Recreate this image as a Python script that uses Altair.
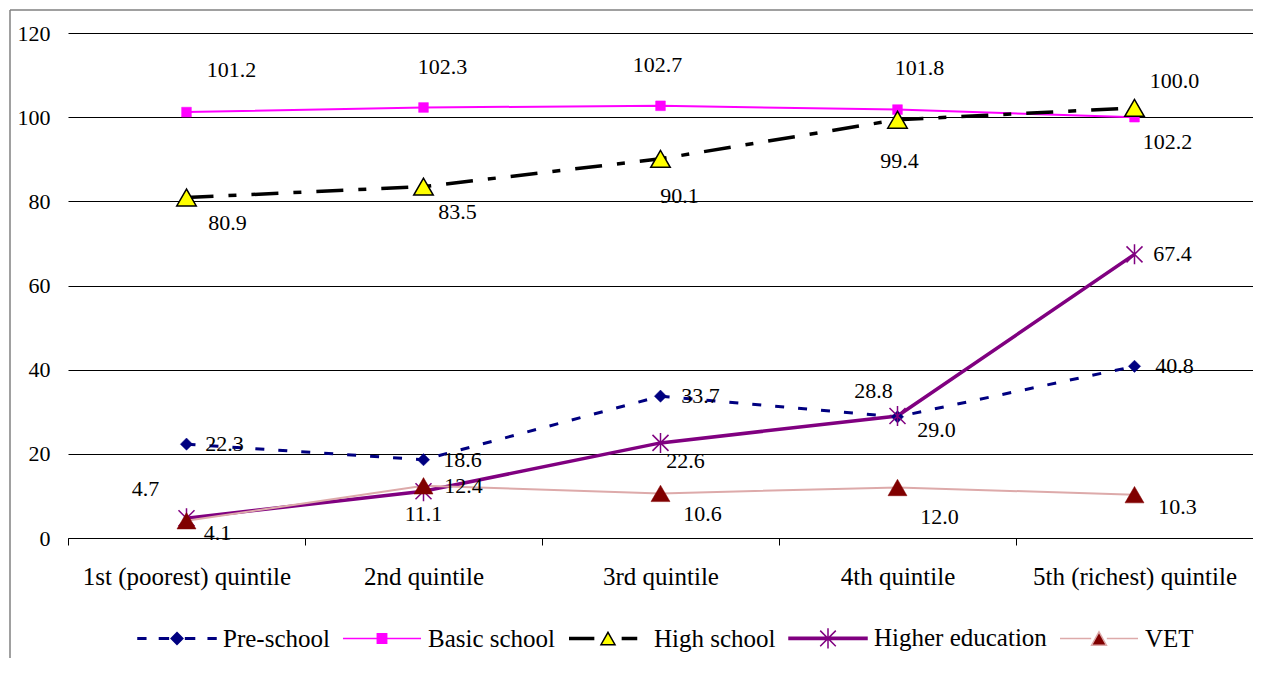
import altair as alt
import pandas as pd

# ---------------- data ----------------
categories = ["1st (poorest) quintile", "2nd quintile", "3rd quintile",
              "4th quintile", "5th (richest) quintile"]
series_names = ["Pre-school", "Basic school", "High school", "Higher education", "VET"]
pre_school = [22.3, 18.6, 33.7, 28.8, 40.8]
basic_school = [101.2, 102.3, 102.7, 101.8, 100.0]
high_school = [80.9, 83.5, 90.1, 99.4, 102.2]
higher_education = [4.7, 11.1, 22.6, 29.0, 67.4]
vet = [4.1, 12.4, 10.6, 12.0, 10.3]
y_ticks = [0, 20, 40, 60, 80, 100, 120]

values = {
    "Pre-school": pre_school,
    "Basic school": basic_school,
    "High school": high_school,
    "Higher education": higher_education,
    "VET": vet,
}

# ---------------- styles ----------------
FONT = "Liberation Serif"
LABEL_DX = {
    "Pre-school": [38, 39, 40, -24, 40],
    "Basic school": [45, 19, -3, 22, 40],
    "High school": [41, 34, 19, 2, 33],
    "Higher education": [-41, 0, 25, 39, 38],
    "VET": [31, 40, 42, 42, 43],
}
LABEL_DY = {
    "Pre-school": [0, 0, 0, -26, 0],
    "Basic school": [-42, -40, -41, -42, -36],
    "High school": [25, 25, 37, 41, 34],
    "Higher education": [-29, 23, 18, 14, 0],
    "VET": [12, 0, 21, 29, 12],
}

rows = []
for s in series_names:
    for i, c in enumerate(categories):
        rows.append({"series": s, "category": c, "value": values[s][i],
                     "dx": LABEL_DX[s][i], "dy": LABEL_DY[s][i]})
df = pd.DataFrame(rows)

W, H = 1185, 505
PAD_BOTTOM = 120
PAD_RIGHT = 0

x_enc = alt.X("category:N", sort=categories,
              scale=alt.Scale(type="band", domain=categories, paddingInner=0, paddingOuter=0),
              axis=alt.Axis(title=None, tickBand="extent", tickSize=7, tickColor="black",
                            domainColor="black", domainWidth=1, labelFont=FONT,
                            labelFontSize=25, labelColor="black", labelPadding=19,
                            labelAngle=0, labelLimit=0, grid=False))
y_enc = alt.Y("value:Q", scale=alt.Scale(domain=[0, 120], nice=False, zero=True),
              axis=alt.Axis(title=None, values=y_ticks, grid=True, gridColor="black",
                            gridWidth=1, domain=False, ticks=False, labelFont=FONT,
                            labelFontSize=22, labelColor="black", labelPadding=18))

base = alt.Chart(df)

line_styles = {
    "Pre-school": dict(color="#000080", strokeWidth=3, strokeDash=[9, 14]),
    "Basic school": dict(color="#FF00FF", strokeWidth=2),
    "High school": dict(color="black", strokeWidth=3.5, strokeDash=[27, 15, 8, 15]),
    "Higher education": dict(color="#800080", strokeWidth=3.5),
    "VET": dict(color="#DDAAAA", strokeWidth=2),
}
ASTER = "M-0.8,-0.8L0.8,0.8M-0.8,0.8L0.8,-0.8M0,-1L0,1"
point_styles = {
    "Pre-school": dict(shape="diamond", filled=True, fill="#000080", stroke="#000080",
                       strokeWidth=0.5, size=150),
    "Basic school": dict(shape="square", filled=True, fill="#FF00FF", stroke="#FF00FF",
                         strokeWidth=0.5, size=95),
    "High school": dict(shape="triangle-up", filled=True, fill="#FFFF00", stroke="black",
                        strokeWidth=1.5, size=380),
    "Higher education": dict(shape=ASTER, filled=False, stroke="#800080",
                             strokeWidth=1.5, size=400),
    "VET": dict(shape="triangle-up", filled=True, fill="#800000", stroke="#800000",
                strokeWidth=0.5, size=360),
}

layers = []
for s in series_names:
    layers.append(
        base.transform_filter(alt.datum.series == s)
        .mark_line(**line_styles[s])
        .encode(x=x_enc, y=y_enc)
    )
for s in series_names:
    layers.append(
        base.transform_filter(alt.datum.series == s)
        .mark_point(opacity=1, **point_styles[s])
        .encode(x=x_enc, y=y_enc)
    )

labels = base.mark_text(font=FONT, fontSize=22, color="black", align="center",
                        baseline="middle",
                        dx=alt.ExprRef(expr="datum.dx"),
                        dy=alt.ExprRef(expr="datum.dy")).encode(
    x=x_enc, y=y_enc, text=alt.Text("value:Q", format=".1f"))
layers.append(labels)

# ---------------- legend (guide built from scales) ----------------
leg_shapes = [
    # Pre-school: dashes + diamond
    "M-1,-0.02H-0.8V0.02H-1Z M-0.45,-0.02H-0.22V0.02H-0.45Z "
    "M0.22,-0.02H0.45V0.02H0.22Z M0.8,-0.02H1V0.02H0.8Z "
    "M0,-0.15L0.15,0L0,0.15L-0.15,0Z",
    # Basic school: line + square
    "M-1,0H1 M-0.12,-0.12H0.12V0.12H-0.12Z",
    # High school: dash + triangle + dash
    "M-1,-0.025H-0.35 M-1,0H-0.35 M-1,0.025H-0.35 "
    "M0.35,-0.025H0.75 M0.35,0H0.75 M0.35,0.025H0.75 "
    "M0,-0.16L0.18,0.16L-0.18,0.16Z",
    # Higher education: thick line + asterisk
    "M-1,-0.03H1V0.03H-1Z M-0.2,-0.2L0.2,0.2 M-0.2,0.2L0.2,-0.2 M0,-0.26V0.26",
    # VET: thin line + triangle
    "M-1,0H-0.2 M0.2,0H1 M0,-0.17L0.19,0.17L-0.19,0.17Z",
]
leg_fill = ["#000080", "#FF00FF", "#FFFF00", "#800080", "#800000"]
leg_stroke = ["#000080", "#FF00FF", "black", "#800080", "#DDAAAA"]

legend_def = alt.Legend(title=None, orient="none", legendX=69, legendY=565,
                        direction="horizontal", columns=5, symbolSize=6084,
                        symbolStrokeWidth=1.5, symbolOpacity=1,
                        labelFont=FONT, labelFontSize=25, labelColor="black",
                        labelOffset=6, labelLimit=0, columnPadding=10, padding=0)

legend_layer = base.transform_filter("false").mark_point(filled=True, opacity=1).encode(
    x=x_enc, y=y_enc,
    shape=alt.Shape("series:N", scale=alt.Scale(domain=series_names, range=leg_shapes),
                    legend=legend_def),
    fill=alt.Fill("series:N", scale=alt.Scale(domain=series_names, range=leg_fill),
                  legend=legend_def),
    stroke=alt.Stroke("series:N", scale=alt.Scale(domain=series_names, range=leg_stroke),
                      legend=legend_def),
)
layers.append(legend_layer)

# ---------------- outer frame ----------------
one = alt.Chart(pd.DataFrame({"a": [0]}))
frame_left = one.mark_rule(color="#808080", strokeWidth=1.5).encode(
    x=alt.value(-58), y=alt.value(-23), y2=alt.value(H + PAD_BOTTOM))
frame_top = one.mark_rule(color="#808080", strokeWidth=1.5).encode(
    x=alt.value(-58), x2=alt.value(W + PAD_RIGHT), y=alt.value(-23))
layers += [frame_left, frame_top]

chart = alt.layer(*layers).properties(
    width=W, height=H,
    autosize=alt.AutoSizeParams(type="none"),
    padding={"left": 60, "top": 25, "right": PAD_RIGHT, "bottom": PAD_BOTTOM},
    background="white",
).configure_view(stroke=None)

chart.save("out.html", embed_options={"renderer": "svg", "actions": False})
